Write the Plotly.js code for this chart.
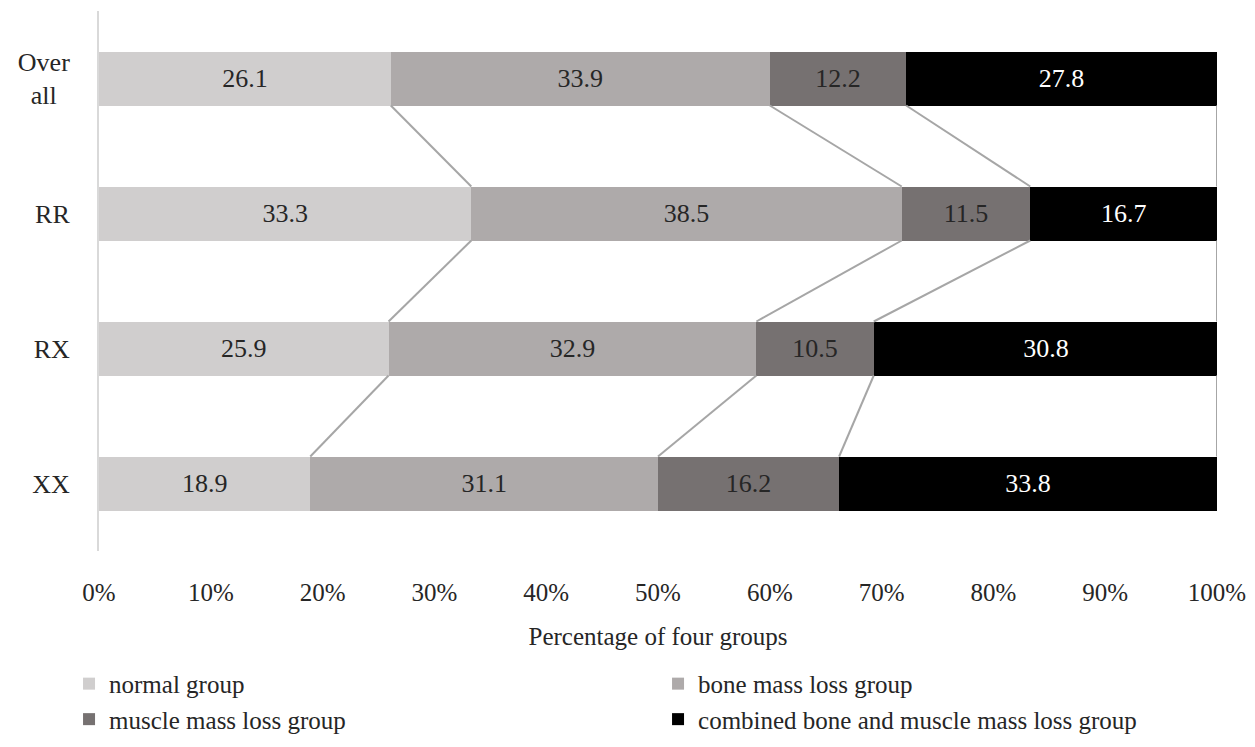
<!DOCTYPE html>
<html>
<head>
<meta charset="utf-8">
<script src="https://cdn.plot.ly/plotly-3.0.1.min.js"></script>
<style>html,body{margin:0;padding:0;background:#fff;}#chart{width:1255px;height:747px;}</style>
</head>
<body>
<div id="chart"></div>
<script>
const categories = ["Over all", "RR", "RX", "XX"];
const categoryLabels = ["Over<br>all\u00a0\u00a0", "RR", "RX", "XX"];
const seriesNames = ["normal group", "bone mass loss group", "muscle mass loss group", "combined bone and muscle mass loss group"];
const normalGroup = [26.1, 33.3, 25.9, 18.9];
const boneLoss = [33.9, 38.5, 32.9, 31.1];
const muscleLoss = [12.2, 11.5, 10.5, 16.2];
const combinedLoss = [27.8, 16.7, 30.8, 33.8];
const xTickVals = [0, 10, 20, 30, 40, 50, 60, 70, 80, 90, 100];

const seriesValues = [normalGroup, boneLoss, muscleLoss, combinedLoss];
const colors = ["#d0cece", "#aeaaaa", "#767171", "#000000"];
const textColors = ["#262626", "#262626", "#262626", "#ffffff"];
const FONT = "Liberation Serif, Times New Roman, serif";
const idx = categories.map((_, i) => i);
const barWidth = 0.4;

const traces = seriesValues.map((vals, s) => ({
  type: "bar",
  orientation: "h",
  name: seriesNames[s],
  y: idx,
  x: vals,
  width: barWidth,
  marker: {color: colors[s], line: {width: 0}},
  text: vals.map(v => v.toFixed(1)),
  textposition: "inside",
  insidetextanchor: "middle",
  textangle: 0,
  constraintext: "none",
  textfont: {family: FONT, size: 26, color: textColors[s]},
  hoverinfo: "x+y+name"
}));

// series lines connecting stacked boundaries
const cum = categories.map((_, i) => {
  let acc = 0;
  return seriesValues.map(vals => (acc += vals[i]));
});
for (let s = 0; s < seriesValues.length; s++) {
  const xs = [], ys = [];
  for (let i = 0; i < categories.length - 1; i++) {
    xs.push(Math.min(cum[i][s], 100), Math.min(cum[i + 1][s], 100), null);
    ys.push(i + barWidth / 2, i + 1 - barWidth / 2, null);
  }
  traces.push({
    type: "scatter", mode: "lines", x: xs, y: ys, showlegend: false,
    line: {color: "#a6a6a6", width: 2}, hoverinfo: "skip", cliponaxis: false
  });
}

const layout = {
  width: 1255, height: 747,
  margin: {l: 99, r: 38, t: 10.5, b: 196, autoexpand: false},
  paper_bgcolor: "#ffffff", plot_bgcolor: "#ffffff",
  barmode: "stack",
  bargap: 0.6,
  font: {family: FONT, size: 25, color: "#262626"},
  xaxis: {
    range: [0, 100], tickvals: xTickVals, ticktext: xTickVals.map(v => v + "%"),
    showgrid: false, zeroline: false, showline: false,
    ticks: "outside", ticklen: 0, ticklabelstandoff: 19,
    tickfont: {family: FONT, size: 25, color: "#262626"},
    title: {text: "Percentage of four groups", font: {family: FONT, size: 25, color: "#262626"}, standoff: 22},
    fixedrange: true
  },
  yaxis: {
    range: [3.5, -0.5], tickvals: idx, ticktext: categoryLabels,
    showgrid: false, zeroline: false, showline: true, linecolor: "#d9d9d9", linewidth: 2,
    ticks: "outside", ticklen: 0, ticklabelstandoff: 22,
    tickfont: {family: FONT, size: 26, color: "#262626"},
    fixedrange: true
  },
  showlegend: true,
  legend: {
    orientation: "h", xref: "paper", xanchor: "left", x: -0.0268,
    yref: "paper", yanchor: "top", y: -0.2035,
    entrywidth: 544, entrywidthmode: "pixels", traceorder: "normal",
    font: {family: FONT, size: 25, color: "#262626"}, itemwidth: 30
  }
};
Plotly.newPlot("chart", traces, layout, {displayModeBar: false, staticPlot: true});
</script>
</body>
</html>
